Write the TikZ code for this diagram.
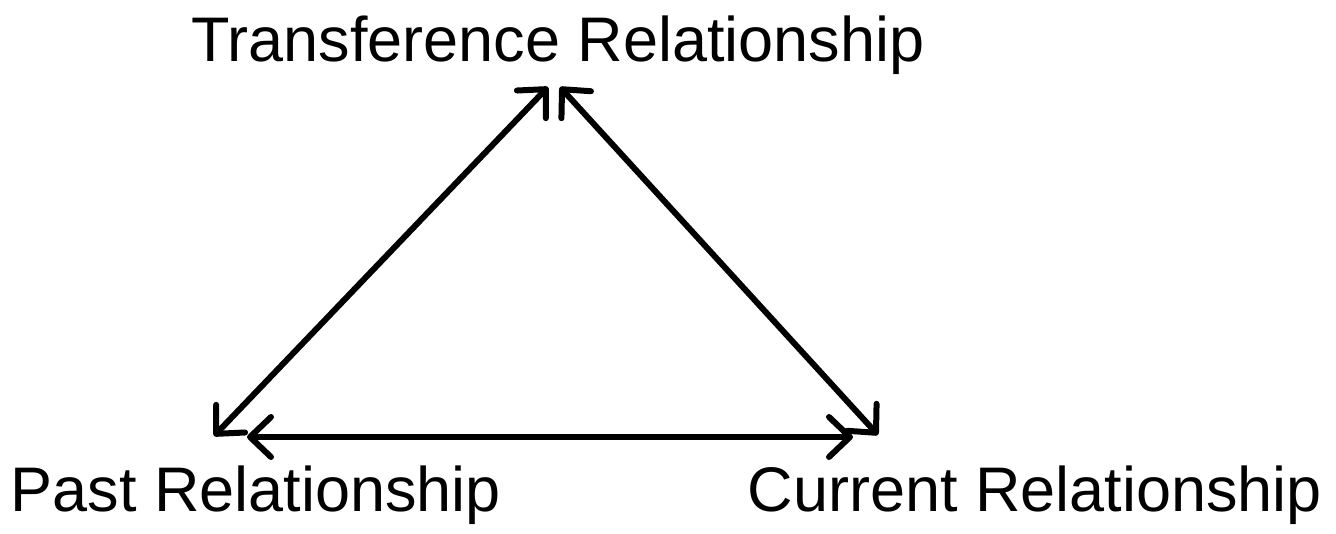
\documentclass[tikz,border=0pt]{standalone}
\usepackage{fontspec}
\setmainfont{Liberation Sans}
\usepackage{tikz}
\usetikzlibrary{arrows.meta, positioning}

\begin{document}
\begin{tikzpicture}[
    x=1pt, y=-1pt,
    relation/.style={font=\fontsize{63}{75}\selectfont, inner sep=0pt, anchor=base},
    link/.style={{Straight Barb[length=21pt, width=40pt, round]}-{Straight Barb[length=21pt, width=40pt, round]}, line width=6pt, line cap=round}
]
\useasboundingbox[fill=white] (0,0) rectangle (1336,533);
\node[relation] (trans) at (558,61) {Transference Relationship};
\node[relation] (past) at (256,511) {Past Relationship};
\node[relation] (current) at (1035,511) {Current Relationship};
% triangle corners
\coordinate (transL) at (548,87);
\coordinate (transR) at (560,87);
\coordinate (pastA) at (214,436);
\coordinate (pastB) at (247,437);
\coordinate (currentA) at (853,437);
\coordinate (currentB) at (878,435);
\draw[link] (pastA) -- (transL);
\draw[link] (transR) -- (currentB);
\draw[link] (pastB) -- (currentA);
\end{tikzpicture}
\end{document}
